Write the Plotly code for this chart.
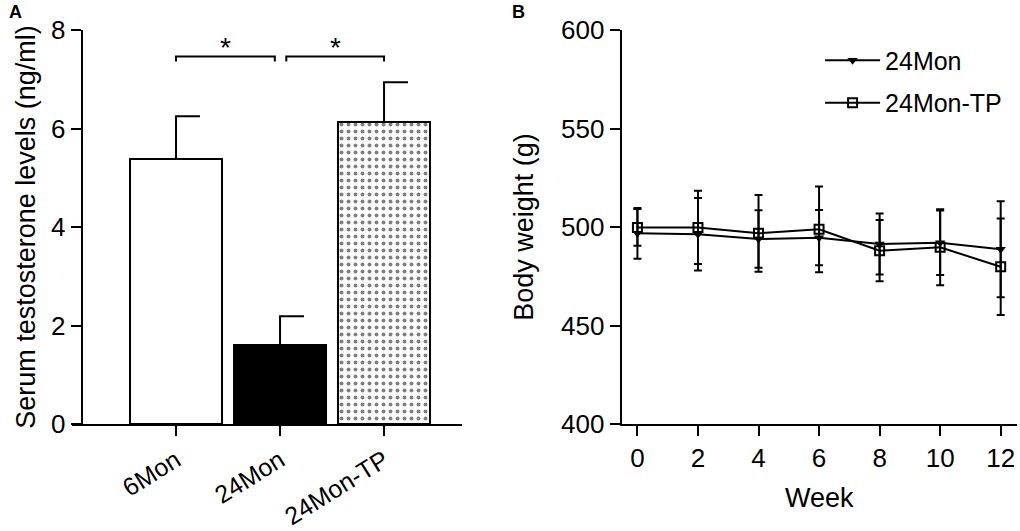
import plotly.graph_objects as go

# panel A: serum testosterone (mean, SD)
groups = ["6Mon", "24Mon", "24Mon-TP"]
testo_mean = [5.38, 1.60, 6.13]
testo_sd = [0.87, 0.59, 0.81]
bar_fill = ["white", "black", "white"]
bar_pattern = ["", "", "."]
comparisons = [(0, 1), (1, 2)]

# panel B: body weight over weeks
weeks = [0, 2, 4, 6, 8, 10, 12]
bw_24mon = [496.8, 496.3, 493.9, 494.6, 491.4, 492.0, 488.7]
bw_24mon_sd = [12.9, 18.4, 14.6, 14.0, 15.5, 16.4, 24.4]
bw_tp = [499.8, 499.8, 496.8, 498.8, 488.0, 489.7, 479.8]
bw_tp_sd = [9.3, 18.6, 19.5, 21.8, 15.5, 19.3, 24.5]

FONT = "Arial, Liberation Sans, sans-serif"
pos = list(range(len(groups)))

fig = go.Figure()

for i, m, c, p in zip(pos, testo_mean, bar_fill, bar_pattern):
    marker = dict(color=c, line=dict(color="black", width=2))
    if p:
        marker["pattern"] = dict(shape=p, fgcolor="black", bgcolor="white",
                                 size=7, solidity=0.25, fillmode="overlay")
    fig.add_trace(go.Bar(x=[i], y=[m], width=0.885, marker=marker,
                         showlegend=False, xaxis="x", yaxis="y"))

# upper error bars with half caps (Prism style)
cap = 0.23
ex, ey = [], []
for i, m, s in zip(pos, testo_mean, testo_sd):
    ex += [i, i, i + cap, None]
    ey += [m, m + s, m + s, None]
fig.add_trace(go.Scatter(x=ex, y=ey, mode="lines",
                         line=dict(color="black", width=2),
                         showlegend=False, hoverinfo="skip",
                         xaxis="x", yaxis="y"))

# significance brackets
shapes = []
annos = []
for a, b in comparisons:
    x0 = a + (0.06 if a == 1 else 0)
    x1 = b - (0.05 if b == 1 else 0)
    shapes.append(dict(type="path", xref="x", yref="y",
                       path=f"M {x0} 7.36 L {x0} 7.46 L {x1} 7.46 L {x1} 7.36",
                       line=dict(color="black", width=2)))
    annos.append(dict(x=(x0 + x1) / 2, y=7.28, xref="x", yref="y", text="*",
                      showarrow=False, yanchor="bottom",
                      font=dict(size=28, family=FONT, color="black")))

fig.add_trace(go.Scatter(
    x=weeks, y=bw_24mon, name="24Mon", mode="lines+markers",
    line=dict(color="black", width=2),
    marker=dict(symbol="triangle-down", size=9, color="black"),
    error_y=dict(type="data", array=bw_24mon_sd, color="black",
                 thickness=2, width=4),
    legendgroup="a", xaxis="x2", yaxis="y2"))
fig.add_trace(go.Scatter(
    x=weeks, y=bw_tp, name="24Mon-TP", mode="lines+markers",
    line=dict(color="black", width=2),
    marker=dict(symbol="square-open", size=9, color="black",
                line=dict(width=2)),
    error_y=dict(type="data", array=bw_tp_sd, color="black",
                 thickness=2, width=4),
    legendgroup="b", xaxis="x2", yaxis="y2"))

annos.append(dict(x=0.007, y=1.077, xref="paper", yref="paper", text="<b>A</b>",
                  showarrow=False, xanchor="left", yanchor="top",
                  font=dict(size=18, family=FONT, color="black")))
annos.append(dict(x=0.5, y=1.077, xref="paper", yref="paper", text="<b>B</b>",
                  showarrow=False, xanchor="left", yanchor="top",
                  font=dict(size=18, family=FONT, color="black")))

axis_style = dict(showline=True, linecolor="black", linewidth=2,
                  ticks="outside", ticklen=10, tickwidth=2, tickcolor="black",
                  showgrid=False, zeroline=False, automargin=False,
                  tickfont=dict(size=26, family=FONT, color="black"))

fig.update_layout(
    width=1020, height=531, template="none",
    margin=dict(l=0, r=0, t=30, b=107),
    paper_bgcolor="white", plot_bgcolor="white",
    font=dict(family=FONT, color="black"),
    shapes=shapes, annotations=annos, bargap=0,
    xaxis=dict(axis_style, domain=[0.0706, 0.453], range=[-1.0, 2.75],
               tickvals=pos, ticktext=groups, tickangle=-32, anchor="y",
               tickfont=dict(size=25, family=FONT, color="black")),
    yaxis=dict(axis_style, domain=[0, 1], range=[0, 8], dtick=2,
               anchor="free", position=0.0801,
               title=dict(text="Serum testosterone levels (ng/ml)", standoff=7,
                          font=dict(size=27, family=FONT))),
    xaxis2=dict(axis_style, domain=[0.6095, 0.9968], range=[-0.52, 12.53],
                dtick=2, anchor="y2",
                title=dict(text="Week", standoff=16,
                           font=dict(size=27, family=FONT))),
    yaxis2=dict(axis_style, domain=[0, 1], range=[400, 600], dtick=50,
                anchor="x2",
                title=dict(text="Body weight (g)", standoff=20,
                           font=dict(size=27, family=FONT))),
    legend=dict(x=0.804, y=0.981, xanchor="left", yanchor="top",
                font=dict(size=25, family=FONT), tracegroupgap=7,
                itemwidth=55, bgcolor="rgba(0,0,0,0)"),
)

# page has a default 8px body margin; drop it so the 1020x531 figure fills the window
fig.write_html("out.html", config={"displayModeBar": False},
               post_script="document.body.style.margin='0';")
